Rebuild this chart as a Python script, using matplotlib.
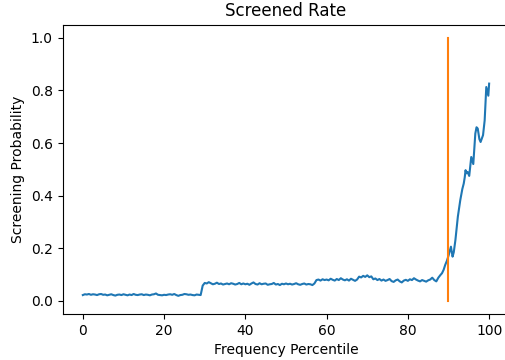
import numpy as np
from matplotlib import pyplot as plt

base_pct = np.arange(0, 88, 0.5)
base_rate = [
    0.022, 0.025, 0.024, 0.026, 0.023, 0.025, 0.024, 0.022, 0.025, 0.026,
    0.023, 0.024, 0.021, 0.023, 0.025, 0.022, 0.020, 0.023, 0.024, 0.022,
    0.025, 0.023, 0.021, 0.024, 0.022, 0.026, 0.023, 0.022, 0.024, 0.025,
    0.022, 0.024, 0.023, 0.021, 0.024, 0.025, 0.028, 0.023, 0.022, 0.021,
    0.023, 0.022, 0.024, 0.025, 0.023, 0.026, 0.022, 0.019, 0.022, 0.023,
    0.026, 0.025, 0.023, 0.024, 0.022, 0.021, 0.024, 0.023, 0.022, 0.058,
    0.068, 0.066, 0.071, 0.067, 0.063, 0.065, 0.069, 0.064, 0.066, 0.062,
    0.064, 0.066, 0.063, 0.067, 0.065, 0.062, 0.064, 0.068, 0.063, 0.066,
    0.063, 0.065, 0.061, 0.066, 0.070, 0.064, 0.062, 0.067, 0.063, 0.065,
    0.066, 0.061, 0.063, 0.064, 0.068, 0.062, 0.064, 0.060, 0.065, 0.063,
    0.066, 0.063, 0.065, 0.062, 0.064, 0.067, 0.063, 0.061, 0.064, 0.066,
    0.062, 0.064, 0.063, 0.060, 0.066, 0.079, 0.081, 0.077, 0.082, 0.079,
    0.081, 0.078, 0.084, 0.080, 0.077, 0.083, 0.079, 0.086, 0.081, 0.078,
    0.082, 0.077, 0.084, 0.080, 0.076, 0.081, 0.092, 0.089, 0.095, 0.091,
    0.097, 0.090, 0.093, 0.082, 0.085, 0.079, 0.083, 0.077, 0.081, 0.076,
    0.079, 0.083, 0.075, 0.072, 0.078, 0.081, 0.074, 0.070, 0.077, 0.080,
    0.076, 0.082, 0.079, 0.086, 0.081, 0.077, 0.074, 0.079, 0.076, 0.073,
    0.078, 0.081, 0.088, 0.079, 0.074, 0.088,
]

# steep tail, read point by point
tail_pct = [88.0, 88.4, 88.8, 89.2, 89.6, 90.05, 90.6, 91.0, 91.3, 91.7,
            92.3, 92.9, 93.4, 93.75, 94.0, 94.2, 94.4, 94.7, 95.1, 95.6,
            96.1, 96.6, 96.9, 97.2, 97.6, 97.9, 98.5, 98.9, 99.3, 99.5,
            99.8, 100.0]
tail_rate = [0.098, 0.105, 0.118, 0.137, 0.152, 0.174, 0.206, 0.168, 0.185, 0.231,
             0.320, 0.383, 0.425, 0.446, 0.470, 0.497, 0.485, 0.490, 0.475, 0.547,
             0.520, 0.636, 0.660, 0.655, 0.615, 0.604, 0.630, 0.686, 0.813, 0.800,
             0.780, 0.826]

cutoff = 90

pct = np.concatenate([base_pct, tail_pct])
rate = np.concatenate([base_rate, tail_rate])

fig = plt.figure(figsize=(5.05, 3.6), dpi=100)
ax = fig.add_axes([0.1238, 0.1278, 0.885, 0.8036])

ax.plot(pct, rate)
ax.plot([cutoff, cutoff], [0, 1])

ax.set_title("Screened Rate")
ax.set_xlabel("Frequency Percentile")
ax.set_ylabel("Screening Probability")

fig.savefig("out.png", dpi=100)
